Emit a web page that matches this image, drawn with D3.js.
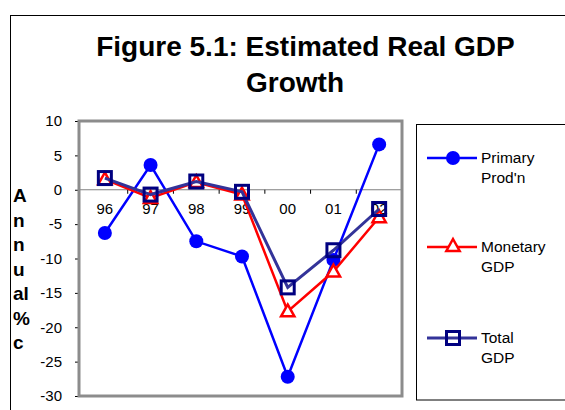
<!DOCTYPE html>
<html><head><meta charset="utf-8">
<script src="https://cdn.jsdelivr.net/npm/d3@7"></script>
<style>
html,body{margin:0;padding:0;background:#fff;}
text{font-family:"Liberation Sans",Arial,sans-serif;}
</style></head>
<body>
<svg id="c" width="565" height="410"></svg>
<script>
const categories = ["96","97","98","99","00","01","02"];
const primaryProdn = [-6.3, 3.6, -7.5, -9.7, -27.2, -10.2, 6.6];
const monetaryGDP = [1.5, -1.2, 1.1, -0.7, -17.7, -11.9, -4.0];
const totalGDP = [1.7, -0.7, 1.2, -0.3, -14.2, -8.8, -2.8];
const yTicks = [10, 5, 0, -5, -10, -15, -20, -25, -30];
const seriesNames = [["Primary","Prod'n"],["Monetary","GDP"],["Total","GDP"]];
const titleLines = ["Figure 5.1: Estimated Real GDP", "Growth"];
const yLabelLines = ["A","n","n","u","al","%","c"];

const svg = d3.select("#c");
// outer chart border
svg.append("rect").attr("x",10.5).attr("y",15.5).attr("width",600).attr("height",450)
  .attr("fill","#fff").attr("stroke","#000").attr("stroke-width",1);

// title
svg.append("text").attr("x",305.5).attr("y",56).attr("text-anchor","middle")
  .attr("font-size",28).attr("font-weight","bold").text(titleLines[0]);
svg.append("text").attr("x",295).attr("y",92).attr("text-anchor","middle")
  .attr("font-size",28).attr("font-weight","bold").text(titleLines[1]);

// y label stacked
yLabelLines.forEach((t,i)=>{
  svg.append("text").attr("x",13).attr("y",202 + i*24.5)
    .attr("font-size",19).attr("font-weight","bold").text(t);
});

const pL=79, pR=402, pT=121, pB=396;
const x = d3.scaleBand().domain(categories).range([82, 402]);
const y = d3.scaleLinear().domain([-30,10]).range([pB, pT]);
const cx = d => x(d) + x.bandwidth()/2;

// y axis
const yAxis = d3.axisLeft(y).tickValues(yTicks).tickSize(4).tickPadding(13).tickFormat(d => String(d));
const gy = svg.append("g").attr("transform",`translate(${pL},0)`).call(yAxis);
gy.select(".domain").remove();
gy.selectAll(".tick line").attr("stroke","#000");
gy.selectAll(".tick text").attr("font-size",15).attr("fill","#000")
  .attr("font-family","Liberation Sans, Arial, sans-serif");

// zero axis with category labels
const xAxis = d3.axisBottom(x).tickSize(0).tickPadding(14);
const gx = svg.append("g").attr("transform",`translate(0,${y(0)})`).call(xAxis);
gx.select(".domain").attr("stroke","#808080").attr("d",`M${pL},0H${pR}`);
gx.selectAll(".tick text").attr("font-size",15).attr("fill","#000")
  .attr("font-family","Liberation Sans, Arial, sans-serif");
// boundary tick marks
svg.append("g").selectAll("line").data(categories.slice(1).concat(["end"])).join("line")
  .attr("x1",d=> d==="end" ? pR : x(d)).attr("x2",d=> d==="end" ? pR : x(d))
  .attr("y1",y(0)).attr("y2",y(0)+4).attr("stroke","#000").attr("stroke-width",1);

// plot frame
svg.append("rect").attr("x",pL).attr("y",pT).attr("width",pR-pL).attr("height",pB-pT)
  .attr("fill","none").attr("stroke","#8c8c8c").attr("stroke-width",3);

const line = d3.line().x((d,i)=>cx(categories[i])).y(d=>y(d));
// Primary
svg.append("path").attr("d",line(primaryProdn)).attr("fill","none").attr("stroke","#0000ff").attr("stroke-width",2.5);
svg.append("g").selectAll("circle").data(primaryProdn).join("circle")
  .attr("cx",(d,i)=>cx(categories[i])).attr("cy",d=>y(d)).attr("r",7).attr("fill","#0000ff");
// Monetary
svg.append("path").attr("d",line(monetaryGDP)).attr("fill","none").attr("stroke","#ff0000").attr("stroke-width",2.5);
const tri = (cxp,cyp,s)=>`M${cxp},${cyp-s}L${cxp+s*0.95},${cyp+s*0.7}L${cxp-s*0.95},${cyp+s*0.7}Z`;
svg.append("g").selectAll("path").data(monetaryGDP).join("path")
  .attr("d",(d,i)=>tri(cx(categories[i]), y(d), 7)).attr("fill","#fff").attr("stroke","#ff0000").attr("stroke-width",2.5);
// Total
svg.append("path").attr("d",line(totalGDP)).attr("fill","none").attr("stroke","#333399").attr("stroke-width",3);
svg.append("g").selectAll("rect").data(totalGDP).join("rect")
  .attr("x",(d,i)=>cx(categories[i])-6.5).attr("y",d=>y(d)-6.5).attr("width",13).attr("height",13)
  .attr("fill","none").attr("stroke","#000080").attr("stroke-width",3);

// legend
svg.append("rect").attr("x",416.5).attr("y",124.5).attr("width",200).attr("height",275.5)
  .attr("fill","#fff").attr("stroke","#000").attr("stroke-width",1);
const legY = [158, 247, 338];
const colors = ["#0000ff","#ff0000","#333399"];
legY.forEach((ly,i)=>{
  svg.append("line").attr("x1",427).attr("x2",477).attr("y1",ly).attr("y2",ly)
    .attr("stroke",colors[i]).attr("stroke-width",i===2?3:2.5);
  if(i===0) svg.append("circle").attr("cx",453).attr("cy",ly).attr("r",7).attr("fill","#0000ff");
  if(i===1) svg.append("path").attr("d",tri(453,ly-1,7)).attr("fill","#fff").attr("stroke","#ff0000").attr("stroke-width",2.5);
  if(i===2) svg.append("rect").attr("x",446.5).attr("y",ly-6.5).attr("width",13).attr("height",13)
    .attr("fill","none").attr("stroke","#000080").attr("stroke-width",3);
  seriesNames[i].forEach((t,j)=>{
    svg.append("text").attr("x",481).attr("y",ly+5+j*20).attr("font-size",15.5).attr("fill","#000").text(t);
  });
});
</script>
</body></html>
